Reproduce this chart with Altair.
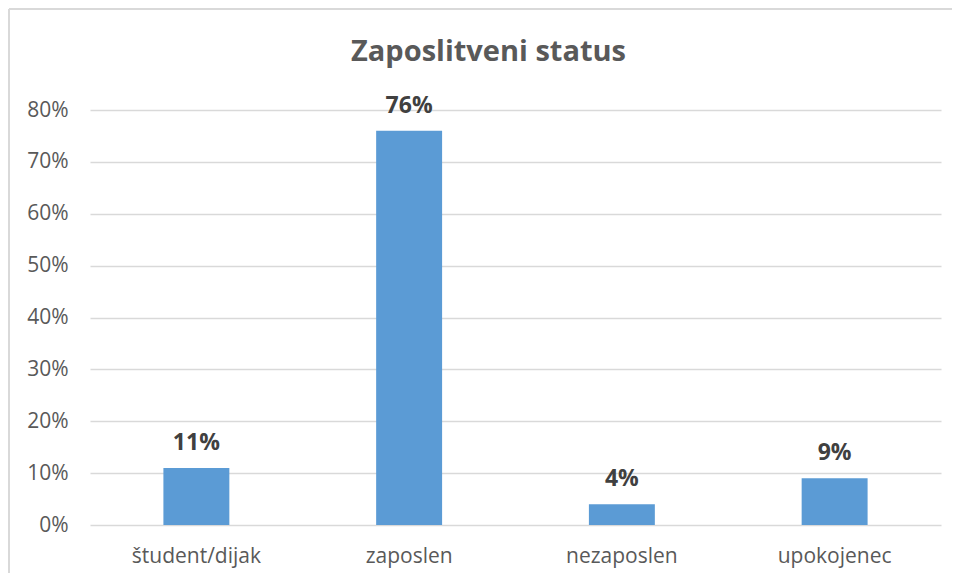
import altair as alt
import pandas as pd

categories = ["študent/dijak", "zaposlen", "nezaposlen", "upokojenec"]
shares = [0.11, 0.76, 0.04, 0.09]
y_ticks = [0, 0.1, 0.2, 0.3, 0.4, 0.5, 0.6, 0.7, 0.8]
title_text = "Zaposlitveni status"

df = pd.DataFrame({"status": categories, "share": shares})

FONT = "Open Sans"

x_enc = alt.X(
    "status:N",
    sort=categories,
    scale=alt.Scale(paddingInner=0.69, paddingOuter=0.345),
    axis=alt.Axis(
        title=None, labelAngle=0, domain=False, ticks=False,
        labelFont=FONT, labelFontSize=21, labelColor="#595959",
        labelPadding=37, labelBaseline="alphabetic",
    ),
)
y_enc = alt.Y(
    "share:Q",
    scale=alt.Scale(domain=[0, 0.8], nice=False),
    axis=alt.Axis(
        title=None, values=y_ticks, format=".0%", domain=False, ticks=False,
        grid=True, gridColor="#d9d9d9", gridWidth=1.5,
        labelFont=FONT, labelFontSize=21, labelColor="#595959",
        labelPadding=22,
    ),
)

base = alt.Chart(df)
bars = base.mark_bar(color="#5b9bd5").encode(x=x_enc, y=y_enc)
labels = base.mark_text(
    font=FONT, fontSize=23, fontWeight="bold", color="#404040",
    baseline="alphabetic", dy=-18,
).encode(x=x_enc, y=y_enc, text=alt.Text("share:Q", format=".0%"))

one = alt.Data(values=[{"k": 1}])
title = alt.Chart(one).mark_text(
    font=FONT, fontSize=29, fontWeight="bold", color="#595959",
    align="center", baseline="alphabetic",
).encode(x=alt.value(398.5), y=alt.value(-49), text=alt.value(title_text))

border_left = alt.Chart(one).mark_rule(color="#d9d9d9", strokeWidth=2).encode(
    x=alt.value(-81), y=alt.value(-101), y2=alt.value(470)
)
border_top = alt.Chart(one).mark_rule(color="#d9d9d9", strokeWidth=2).encode(
    x=alt.value(-81), x2=alt.value(870), y=alt.value(-101)
)

chart = (
    alt.layer(border_left, border_top, bars, labels, title)
    .properties(
        width=851, height=415,
        autosize=alt.AutoSizeParams(type="none"),
        padding={"left": 82, "top": 102, "right": 11, "bottom": 48},
        background="white",
    )
    .configure_view(stroke=None)
)

chart.save("out.html", embed_options={"renderer": "svg", "actions": False})
